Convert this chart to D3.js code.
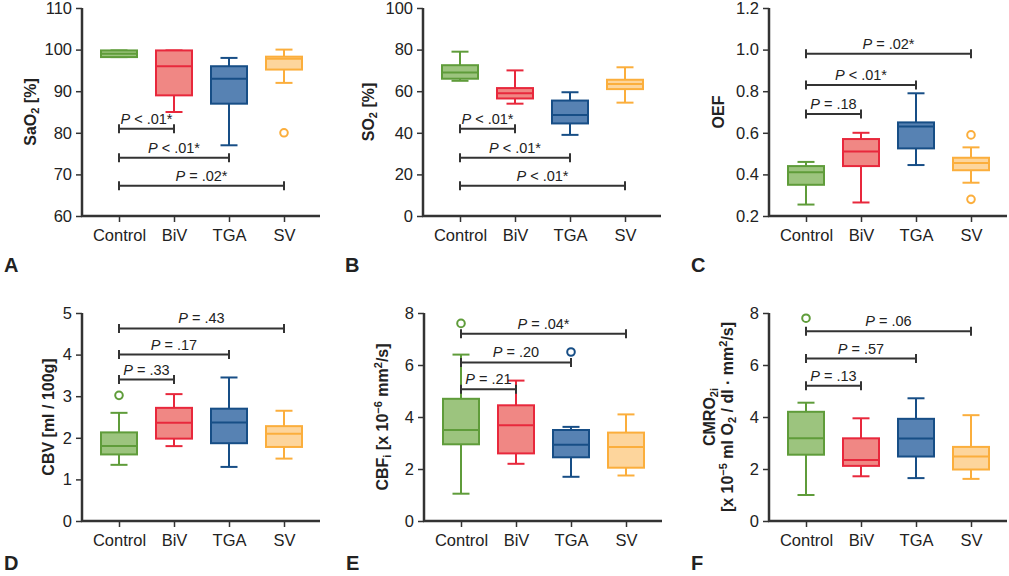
<!DOCTYPE html>
<html>
<head>
<meta charset="utf-8">
<script src="https://cdn.jsdelivr.net/npm/d3@7"></script>
<style>
  body { margin: 0; background: #fff; }
  svg { font-family: "Liberation Sans", Arial, Helvetica, sans-serif; }
</style>
</head>
<body>
<svg width="1009" height="576"></svg>
<script>
// Groups along the x axis
const groups = ["Control", "BiV", "TGA", "SV"];

// Box stats per group: [min, q1, median, q3, max]
const saO2Box = [[98.2, 98.2, 99, 99.8, 99.8], [85, 89, 96, 99.8, 99.8], [77, 87, 93, 96, 98], [92, 95.2, 97.8, 98.3, 100]];
const so2Box = [[65, 66, 69, 72.5, 79], [54, 56.5, 59, 61.5, 70], [39, 44.5, 48.5, 55.5, 59.5], [54.5, 61, 63.5, 65.5, 71.5]];
const oefBox = [[0.255, 0.35, 0.41, 0.44, 0.46], [0.265, 0.44, 0.51, 0.57, 0.60], [0.445, 0.525, 0.63, 0.65, 0.79], [0.36, 0.42, 0.455, 0.48, 0.53]];
const cbvBox = [[1.35, 1.6, 1.8, 2.13, 2.6], [1.8, 1.98, 2.36, 2.72, 3.05], [1.3, 1.87, 2.37, 2.7, 3.45], [1.5, 1.78, 2.1, 2.28, 2.65]];
const cbfBox = [[1.05, 2.95, 3.5, 4.7, 6.4], [2.2, 2.6, 3.68, 4.45, 5.4], [1.7, 2.45, 2.93, 3.5, 3.62], [1.75, 2.05, 2.85, 3.4, 4.1]];
const cmroBox = [[1.0, 2.55, 3.18, 4.2, 4.55], [1.72, 2.12, 2.35, 3.18, 3.95], [1.65, 2.48, 3.17, 3.93, 4.72], [1.62, 1.98, 2.48, 2.85, 4.07]];

// Outliers per group
const saO2Out = [[], [], [], [80]];
const so2Out = [[], [], [], []];
const oefOut = [[], [], [], [0.59, 0.28]];
const cbvOut = [[3.02], [], [], []];
const cbfOut = [[7.6], [], [6.5], []];
const cmroOut = [[7.8], [], [], []];

// Comparison bars vs Control: target group, level, label
const saO2Sig = [["BiV", 81, "< .01*"], ["TGA", 74, "< .01*"], ["SV", 67.3, "= .02*"]];
const so2Sig = [["BiV", 42, "< .01*"], ["TGA", 28, "< .01*"], ["SV", 14.5, "< .01*"]];
const oefSig = [["BiV", 0.69, "= .18"], ["TGA", 0.83, "< .01*"], ["SV", 0.98, "= .02*"]];
const cbvSig = [["BiV", 3.4, "= .33"], ["TGA", 4.0, "= .17"], ["SV", 4.63, "= .43"]];
const cbfSig = [["BiV", 5.07, "= .21"], ["TGA", 6.1, "= .20"], ["SV", 7.2, "= .04*"]];
const cmroSig = [["BiV", 5.2, "= .13"], ["TGA", 6.25, "= .57"], ["SV", 7.3, "= .06"]];

// Axis ticks
const saO2Ticks = [60, 70, 80, 90, 100, 110];
const so2Ticks = [0, 20, 40, 60, 80, 100];
const oefTicks = [0.2, 0.4, 0.6, 0.8, 1.0, 1.2];
const cbvTicks = [0, 1, 2, 3, 4, 5];
const cbfTicks = [0, 2, 4, 6, 8];
const cmroTicks = [0, 2, 4, 6, 8];

const strokeColors = ["#5f9c3a", "#e8283c", "#174e86", "#fbae3c"];
const fillColors = ["#9cc47e", "#f08784", "#5782b3", "#fdd59c"];
const axisColor = "#333";

const svg = d3.select("svg");

const panels = [
    { letter: "A", left: 82, top: 8, letterY: 272, box: saO2Box, out: saO2Out, sig: saO2Sig, ticks: saO2Ticks, fmt: d3.format("d"),
      label: [[["SaO", ""], ["2", "sub"], [" [%]", ""]]], labelDx: [52] },
    { letter: "B", left: 423, top: 8, letterY: 272, box: so2Box, out: so2Out, sig: so2Sig, ticks: so2Ticks, fmt: d3.format("d"),
      label: [[["SO", ""], ["2", "sub"], [" [%]", ""]]], labelDx: [55] },
    { letter: "C", left: 769, top: 8, letterY: 272, box: oefBox, out: oefOut, sig: oefSig, ticks: oefTicks, fmt: d3.format(".1f"),
      label: [[["OEF", ""]]], labelDx: [51] },
    { letter: "D", left: 82, top: 313, letterY: 570, box: cbvBox, out: cbvOut, sig: cbvSig, ticks: cbvTicks, fmt: d3.format("d"),
      label: [[["CBV [ml / 100g]", ""]]], labelDx: [34] },
    { letter: "E", left: 424, top: 313, letterY: 570, box: cbfBox, out: cbfOut, sig: cbfSig, ticks: cbfTicks, fmt: d3.format("d"),
      label: [[["CBF", ""], ["i", "sub"], [" [x 10", ""], ["\u22126", "sup"], [" mm", ""], ["2", "sup"], ["/s]", ""]]], labelDx: [42] },
    { letter: "F", left: 769, top: 313, letterY: 570, box: cmroBox, out: cmroOut, sig: cmroSig, ticks: cmroTicks, fmt: d3.format("d"),
      label: [[["CMRO", ""], ["2i", "sub"]],
              [["[x 10", ""], ["\u22125", "sup"], [" ml O", ""], ["2", "sub"], [" / dl \u00b7 mm", ""], ["2", "sup"], ["/s]", ""]]],
      labelDx: [60, 42] }
];

const plotW = 238, plotH = 208;

panels.forEach(p => {
    const g = svg.append("g").attr("transform", `translate(${p.left},${p.top})`);

    const x = d3.scalePoint().domain(groups).range([37, 202]);
    const y = d3.scaleLinear().domain(d3.extent(p.ticks)).range([plotH, 0]);
    const halfBox = 18, halfCap = 8.5;

    // y axis
    const yAxis = g.append("g")
        .call(d3.axisLeft(y).tickValues(p.ticks).tickFormat(p.fmt).tickSize(6).tickSizeOuter(0));
    yAxis.select(".domain").remove();
    yAxis.selectAll(".tick line").attr("stroke", axisColor).attr("stroke-width", 1.5);
    yAxis.selectAll(".tick text").attr("fill", "#222").attr("font-size", 16.5)
        .attr("font-family", "Liberation Sans, Arial, sans-serif").attr("x", -10);

    // x axis
    const xAxis = g.append("g").attr("transform", `translate(0,${plotH})`)
        .call(d3.axisBottom(x).tickSize(6).tickSizeOuter(0));
    xAxis.select(".domain").remove();
    xAxis.selectAll(".tick line").attr("stroke", axisColor).attr("stroke-width", 1.5);
    xAxis.selectAll(".tick text").attr("fill", "#222").attr("font-size", 16.5)
        .attr("font-family", "Liberation Sans, Arial, sans-serif").attr("y", 13);

    // axis lines
    g.append("line").attr("x1", 0).attr("x2", 0).attr("y1", 0).attr("y2", plotH + 1)
        .attr("stroke", axisColor).attr("stroke-width", 2.5);
    g.append("line").attr("x1", -1).attr("x2", plotW).attr("y1", plotH).attr("y2", plotH)
        .attr("stroke", axisColor).attr("stroke-width", 2.5);

    // boxes
    const boxes = g.selectAll(".box").data(p.box).enter().append("g").attr("class", "box");
    boxes.append("line")
        .attr("x1", (d, i) => x(groups[i])).attr("x2", (d, i) => x(groups[i]))
        .attr("y1", d => y(d[0])).attr("y2", d => y(d[4]))
        .attr("stroke", (d, i) => strokeColors[i]).attr("stroke-width", 2);
    boxes.append("line")
        .attr("x1", (d, i) => x(groups[i]) - halfCap).attr("x2", (d, i) => x(groups[i]) + halfCap)
        .attr("y1", d => y(d[0])).attr("y2", d => y(d[0]))
        .attr("stroke", (d, i) => strokeColors[i]).attr("stroke-width", 2);
    boxes.append("line")
        .attr("x1", (d, i) => x(groups[i]) - halfCap).attr("x2", (d, i) => x(groups[i]) + halfCap)
        .attr("y1", d => y(d[4])).attr("y2", d => y(d[4]))
        .attr("stroke", (d, i) => strokeColors[i]).attr("stroke-width", 2);
    boxes.append("rect")
        .attr("x", (d, i) => x(groups[i]) - halfBox).attr("width", halfBox * 2)
        .attr("y", d => y(d[3])).attr("height", d => Math.max(1, y(d[1]) - y(d[3])))
        .attr("fill", (d, i) => fillColors[i])
        .attr("stroke", (d, i) => strokeColors[i]).attr("stroke-width", 2);
    boxes.append("line")
        .attr("x1", (d, i) => x(groups[i]) - halfBox).attr("x2", (d, i) => x(groups[i]) + halfBox)
        .attr("y1", d => y(d[2])).attr("y2", d => y(d[2]))
        .attr("stroke", (d, i) => strokeColors[i]).attr("stroke-width", 2);

    // outliers
    p.out.forEach((vals, i) => {
        g.selectAll(null).data(vals).enter().append("circle")
            .attr("cx", x(groups[i])).attr("cy", d => y(d)).attr("r", 3.8)
            .attr("fill", "#fff").attr("stroke", strokeColors[i]).attr("stroke-width", 2);
    });

    // comparison bars
    p.sig.forEach(s => {
        const x0 = x(groups[0]), x1 = x(s[0]), yy = y(s[1]);
        const sg = g.append("g");
        sg.append("line").attr("x1", x0).attr("x2", x1).attr("y1", yy).attr("y2", yy)
            .attr("stroke", axisColor).attr("stroke-width", 2);
        [x0, x1].forEach(xx => {
            sg.append("line").attr("x1", xx).attr("x2", xx).attr("y1", yy - 4.5).attr("y2", yy + 4.5)
                .attr("stroke", axisColor).attr("stroke-width", 2);
        });
        const t = sg.append("text").attr("x", (x0 + x1) / 2).attr("y", yy - 5)
            .attr("text-anchor", "middle").attr("font-size", 14.5).attr("fill", "#222");
        t.append("tspan").attr("font-style", "italic").text("P");
        t.append("tspan").text(" " + s[2]);
    });

    // y label
    p.label.forEach((line, li) => {
        const t = g.append("text")
            .attr("transform", `translate(${-p.labelDx[li]},${plotH / 2}) rotate(-90)`)
            .attr("text-anchor", "middle").attr("font-weight", "bold").attr("font-size", 16)
            .attr("fill", "#222").attr("dy", "0.35em");
        line.forEach(part => {
            const ts = t.append("tspan").text(part[0]);
            if (part[1] === "sub") ts.attr("font-size", 11).attr("baseline-shift", "-25%");
            if (part[1] === "sup") ts.attr("font-size", 11).attr("baseline-shift", "55%");
        });
    });

    // panel letter
    svg.append("text").attr("x", p.left - 78).attr("y", p.letterY)
        .attr("font-size", 20).attr("font-weight", "bold").attr("fill", "#222").text(p.letter);
});
</script>
</body>
</html>
